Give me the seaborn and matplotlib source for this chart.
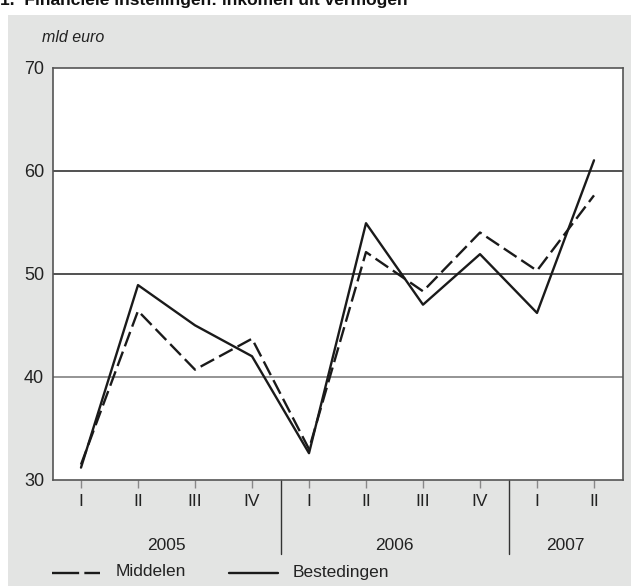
import matplotlib
matplotlib.use('Agg')
import matplotlib.pyplot as plt
from matplotlib.patches import Rectangle
import seaborn as sns
import pandas as pd

# Kwartalen en jaren
kwartalen = ["I", "II", "III", "IV", "I", "II", "III", "IV", "I", "II"]
jaren = ["2005", "2006", "2007"]
kwartalen_per_jaar = [4, 4, 2]

middelen = [31.5, 46.4, 40.7, 43.7, 33.0, 52.1, 48.3, 54.0, 50.3, 57.6]
bestedingen = [31.2, 48.9, 45.0, 42.0, 32.6, 54.9, 47.0, 51.9, 46.2, 61.0]

df = pd.DataFrame({
    "pos": list(range(len(kwartalen))),
    "Middelen": middelen,
    "Bestedingen": bestedingen,
})

sns.set_theme(style="white")
plt.rcParams['font.family'] = ['Liberation Sans', 'DejaVu Sans']

W, H = 631, 586
LW = 1.7
fig = plt.figure(figsize=(W / 100, H / 100), dpi=100, facecolor="white")

# grijze achtergrond
fig.patches.append(Rectangle((8 / W, 0), 1, 1 - 15 / H, transform=fig.transFigure,
                             facecolor="#e3e4e3", edgecolor="none", zorder=-10))

ax = fig.add_axes([52.5 / W, 1 - 480 / H, 570 / W, 412.5 / H])
ax.set_facecolor("white")

sns.lineplot(data=df, x="pos", y="Middelen", ax=ax, color="#1a1a1a", lw=LW)
ax.lines[-1].set_dashes((6.5, 2.4))
sns.lineplot(data=df, x="pos", y="Bestedingen", ax=ax, color="#1a1a1a", lw=LW)

ax.set_xlim(-0.5, len(kwartalen) - 0.5)
ax.set_ylim(30, 70)
ax.set_yticks([30, 40, 50, 60, 70])
for y in [40, 50, 60]:
    ax.axhline(y, color="#222222" if y != 40 else "#777777", lw=1.1, zorder=0)

for s in ax.spines.values():
    s.set_color("#555555")
    s.set_linewidth(1.2)

ax.set_xticks(df["pos"])
ax.set_xticklabels(kwartalen, fontsize=12.5, color="#222222")
ax.tick_params(axis="x", length=6, width=1, color="#888888", pad=4, bottom=True)
ax.tick_params(axis="y", length=0, labelsize=13, labelcolor="#222222", pad=6)
ax.set_xlabel("")
ax.set_ylabel("")

# jaarlabels en scheidingslijnen
start = 0
for jaar, n in zip(jaren, kwartalen_per_jaar):
    mid = start + (n - 1) / 2
    ax.text(mid, -0.158, jaar, transform=ax.get_xaxis_transform(),
            ha="center", va="center", fontsize=12.5, color="#222222", clip_on=False)
    if start + n < len(kwartalen):
        ax.plot([start + n - 0.5] * 2, [0, -0.18], transform=ax.get_xaxis_transform(),
                color="#333333", lw=1.0, clip_on=False)
    start += n

fig.text(42 / W, 1 - 37 / H, "mld euro", style="italic", fontsize=11.5,
         color="#222222", va="center", ha="left")

fig.text(0, 1 - 5 / H, "1.  Financiële instellingen: inkomen uit vermogen",
         fontweight="bold", fontsize=12.5, color="#111111", va="baseline", ha="left")

# legenda
leg_ax = fig.add_axes([0, 0, 1, 1], facecolor="none")
leg_ax.set_xlim(0, W)
leg_ax.set_ylim(H, 0)
leg_ax.axis("off")
leg_ax.plot([52, 100], [573, 573], color="#1a1a1a", lw=LW, dashes=(11.5, 2.2))
leg_ax.plot([229, 278], [573, 573], color="#1a1a1a", lw=LW)
leg_ax.text(116, 572, "Middelen", fontsize=12.5, va="center", ha="left", color="#222222")
leg_ax.text(293, 572, "Bestedingen", fontsize=12.5, va="center", ha="left", color="#222222")

fig.savefig("out.png", dpi=100, facecolor="white")
